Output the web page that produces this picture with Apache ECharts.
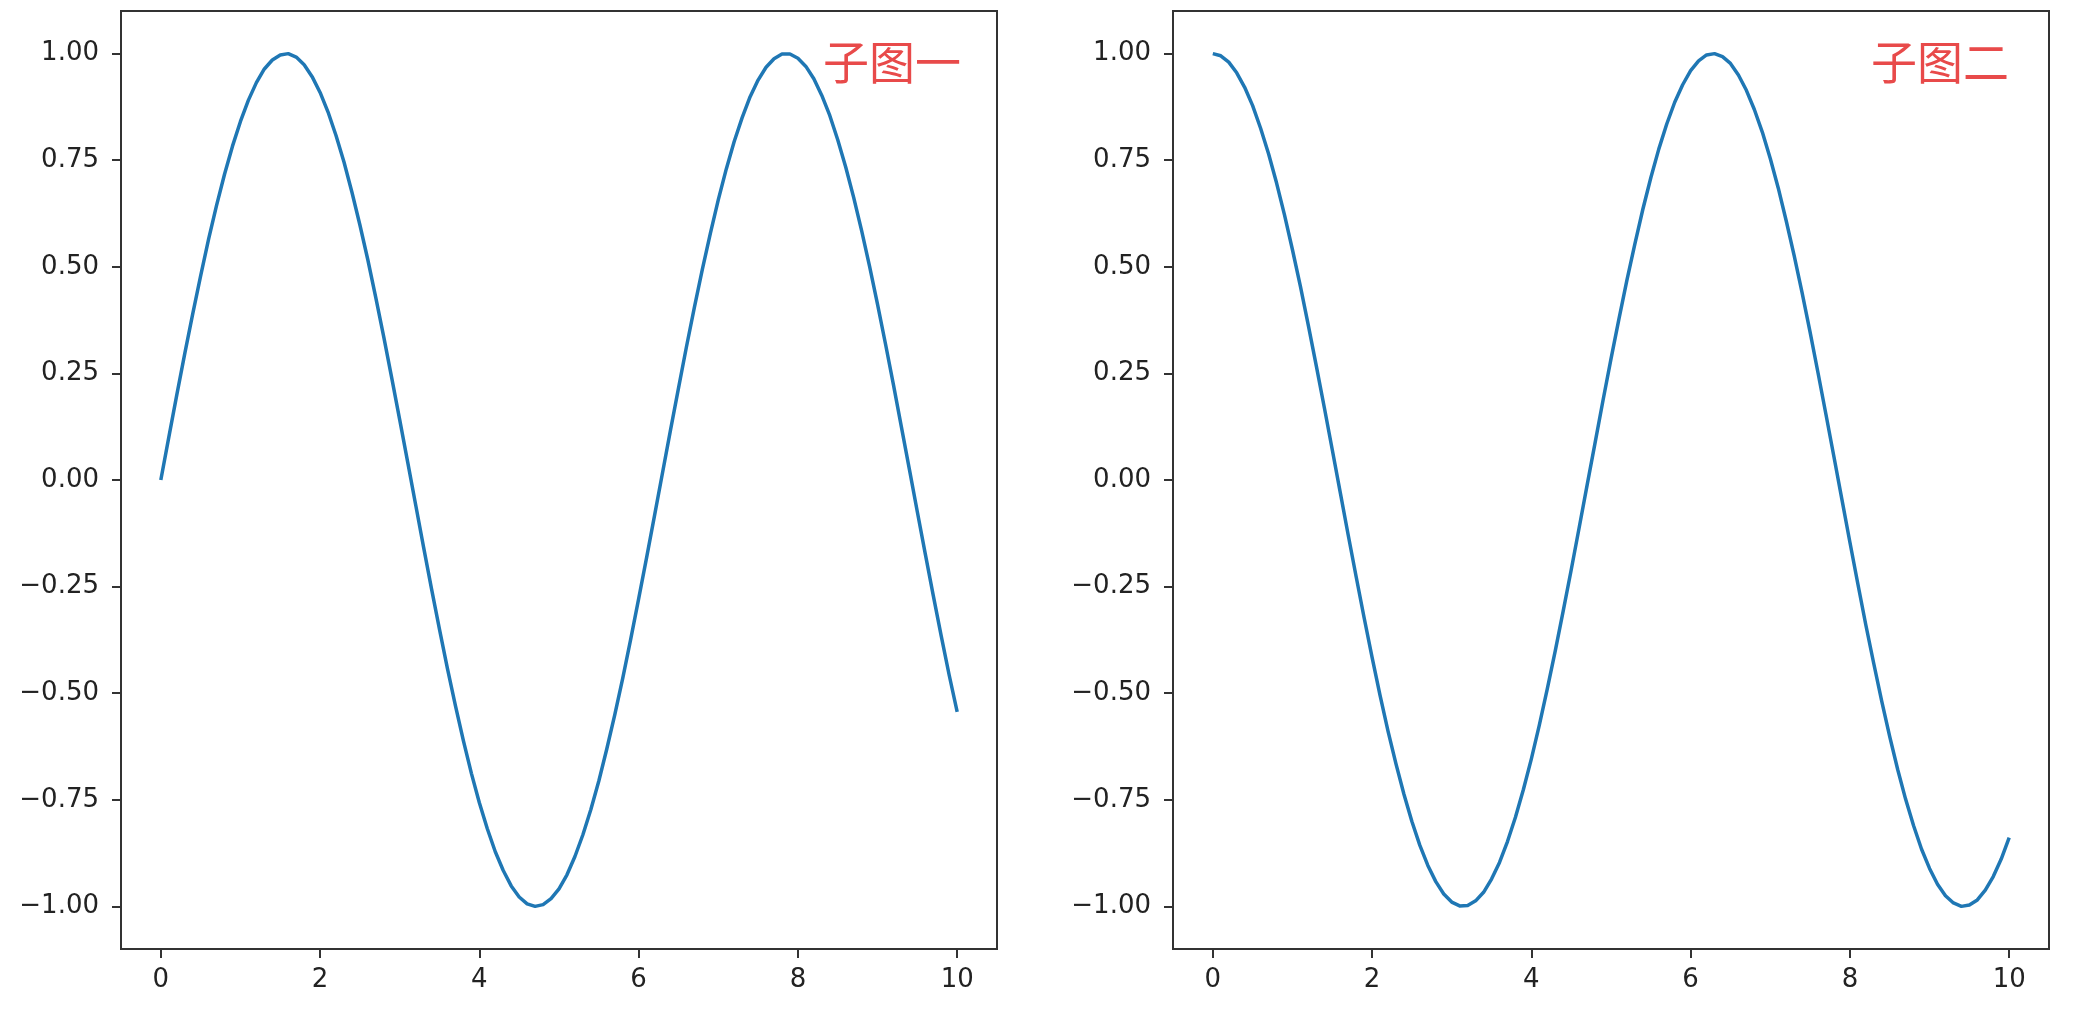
<!DOCTYPE html>
<html>
<head>
<meta charset="utf-8">
<script src="https://cdn.jsdelivr.net/npm/echarts@6/dist/echarts.min.js"></script>
<style>
    html, body { margin: 0; padding: 0; background: #fff; }
    #chart { width: 2092px; height: 1018px; }
</style>
</head>
<body>
<div id="chart"></div>
<script>
var xs = [0, 0.1, 0.2, 0.3, 0.4, 0.5, 0.6, 0.7, 0.8, 0.9,
    1, 1.1, 1.2, 1.3, 1.4, 1.5, 1.6, 1.7, 1.8, 1.9,
    2, 2.1, 2.2, 2.3, 2.4, 2.5, 2.6, 2.7, 2.8, 2.9,
    3, 3.1, 3.2, 3.3, 3.4, 3.5, 3.6, 3.7, 3.8, 3.9,
    4, 4.1, 4.2, 4.3, 4.4, 4.5, 4.6, 4.7, 4.8, 4.9,
    5, 5.1, 5.2, 5.3, 5.4, 5.5, 5.6, 5.7, 5.8, 5.9,
    6, 6.1, 6.2, 6.3, 6.4, 6.5, 6.6, 6.7, 6.8, 6.9,
    7, 7.1, 7.2, 7.3, 7.4, 7.5, 7.6, 7.7, 7.8, 7.9,
    8, 8.1, 8.2, 8.3, 8.4, 8.5, 8.6, 8.7, 8.8, 8.9,
    9, 9.1, 9.2, 9.3, 9.4, 9.5, 9.6, 9.7, 9.8, 9.9, 10];
// 子图一
var sinVals = [0.000, 0.100, 0.199, 0.296, 0.389, 0.479, 0.565, 0.644, 0.717, 0.783,
    0.841, 0.891, 0.932, 0.964, 0.985, 0.997, 1.000, 0.992, 0.974, 0.946,
    0.909, 0.863, 0.808, 0.746, 0.675, 0.598, 0.516, 0.427, 0.335, 0.239,
    0.141, 0.042, -0.058, -0.158, -0.256, -0.351, -0.443, -0.530, -0.612, -0.688,
    -0.757, -0.818, -0.872, -0.916, -0.952, -0.978, -0.994, -1.000, -0.996, -0.982,
    -0.959, -0.926, -0.883, -0.832, -0.773, -0.706, -0.631, -0.551, -0.465, -0.374,
    -0.279, -0.182, -0.083, 0.017, 0.117, 0.215, 0.312, 0.405, 0.494, 0.578,
    0.657, 0.729, 0.794, 0.850, 0.899, 0.938, 0.968, 0.988, 0.999, 0.999,
    0.989, 0.970, 0.941, 0.902, 0.855, 0.798, 0.734, 0.663, 0.585, 0.501,
    0.412, 0.319, 0.223, 0.124, 0.025, -0.075, -0.174, -0.271, -0.366, -0.458, -0.544];
// 子图二
var cosVals = [1.000, 0.995, 0.980, 0.955, 0.921, 0.878, 0.825, 0.765, 0.697, 0.622,
    0.540, 0.454, 0.362, 0.267, 0.170, 0.071, -0.029, -0.129, -0.227, -0.323,
    -0.416, -0.505, -0.589, -0.666, -0.737, -0.801, -0.857, -0.904, -0.942, -0.971,
    -0.990, -0.999, -0.998, -0.987, -0.967, -0.936, -0.897, -0.848, -0.791, -0.726,
    -0.654, -0.575, -0.490, -0.401, -0.307, -0.211, -0.112, -0.012, 0.087, 0.187,
    0.284, 0.378, 0.469, 0.554, 0.635, 0.709, 0.776, 0.835, 0.886, 0.927,
    0.960, 0.983, 0.997, 1.000, 0.993, 0.977, 0.950, 0.914, 0.869, 0.816,
    0.754, 0.685, 0.608, 0.526, 0.439, 0.347, 0.251, 0.153, 0.054, -0.046,
    -0.146, -0.244, -0.340, -0.431, -0.519, -0.602, -0.679, -0.749, -0.811, -0.866,
    -0.911, -0.948, -0.975, -0.992, -1.000, -0.997, -0.985, -0.962, -0.930, -0.889, -0.839];
var xTicks = [0, 2, 4, 6, 8, 10];
var yTicks = [-1, -0.75, -0.5, -0.25, 0, 0.25, 0.5, 0.75, 1];
var titles = ['子图一', '子图二'];

function pairs(vals) {
    var out = [];
    for (var i = 0; i < xs.length; i++) {
        out.push([xs[i], vals[i]]);
    }
    return out;
}

var axisColor = '#333';
var labelFont = 'DejaVu Sans';

function xAxisOf(idx) {
    return {
        type: 'value',
        gridIndex: idx,
        min: -0.5,
        max: 10.5,
        splitLine: { show: false },
        axisLine: { show: true, onZero: false, lineStyle: { color: axisColor, width: 2 } },
        axisTick: { show: true, length: 9, customValues: xTicks, lineStyle: { color: axisColor, width: 2 } },
        axisLabel: {
            customValues: xTicks,
            margin: 18,
            color: '#222',
            fontSize: 26,
            fontFamily: labelFont
        }
    };
}

function yAxisOf(idx) {
    return {
        type: 'value',
        gridIndex: idx,
        min: -1.1,
        max: 1.1,
        splitLine: { show: false },
        axisLine: { show: true, onZero: false, lineStyle: { color: axisColor, width: 2 } },
        axisTick: { show: true, length: 9, customValues: yTicks, lineStyle: { color: axisColor, width: 2 } },
        axisLabel: {
            customValues: yTicks,
            margin: 22,
            color: '#222',
            fontSize: 26,
            fontFamily: labelFont,
            formatter: function (v) {
                return v.toFixed(2).replace('-', '\u2212');
            }
        }
    };
}

function lineOf(idx, vals) {
    return {
        type: 'line',
        xAxisIndex: idx,
        yAxisIndex: idx,
        data: pairs(vals),
        smooth: false,
        showSymbol: false,
        lineStyle: { color: '#1f77b4', width: 3.5, join: 'round' },
        itemStyle: { color: '#1f77b4' }
    };
}

var chart = echarts.init(document.getElementById('chart'));
var option = {
    animation: false,
    backgroundColor: '#fff',
    grid: [
        { left: 121, top: 11, width: 876, height: 938, show: true, borderColor: axisColor, borderWidth: 2, outerBoundsMode: 'none' },
        { left: 1173, top: 11, width: 876, height: 938, show: true, borderColor: axisColor, borderWidth: 2, outerBoundsMode: 'none' }
    ],
    xAxis: [xAxisOf(0), xAxisOf(1)],
    yAxis: [yAxisOf(0), yAxisOf(1)],
    graphic: [
        {
            type: 'text', x: 823, y: 62,
            style: { text: titles[0], fill: '#e84a4a', fontSize: 46, fontFamily: 'Noto Sans CJK SC', align: 'left', verticalAlign: 'middle' }
        },
        {
            type: 'text', x: 1871, y: 62,
            style: { text: titles[1], fill: '#e84a4a', fontSize: 46, fontFamily: 'Noto Sans CJK SC', align: 'left', verticalAlign: 'middle' }
        }
    ],
    series: [lineOf(0, sinVals), lineOf(1, cosVals)]
};
chart.setOption(option);
window.addEventListener('resize', function () {
    chart.resize();
});
</script>
</body>
</html>
